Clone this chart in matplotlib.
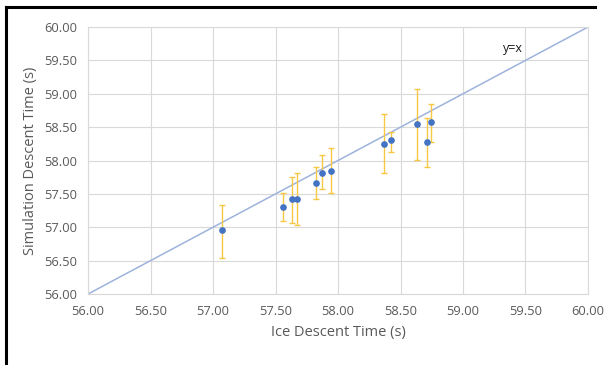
import matplotlib
matplotlib.use("Agg")
import matplotlib.pyplot as plt
from matplotlib.lines import Line2D
import numpy as np

ice_time = [57.07, 57.56, 57.63, 57.67, 57.82, 57.87, 57.94, 58.37, 58.42, 58.63, 58.71, 58.74]
sim_time = [56.96, 57.31, 57.42, 57.42, 57.67, 57.82, 57.85, 58.25, 58.30, 58.55, 58.27, 58.57]
err_top = [57.33, 57.52, 57.75, 57.81, 57.90, 58.09, 58.19, 58.69, 58.42, 59.07, 58.63, 58.85]
err_bottom = [56.54, 57.09, 57.06, 57.03, 57.42, 57.57, 57.51, 57.82, 58.12, 58.01, 57.90, 58.27]
ticks = [56.0, 56.5, 57.0, 57.5, 58.0, 58.5, 59.0, 59.5, 60.0]
line_x = [56.0, 60.0]

plt.rcParams['font.family'] = ['Open Sans', 'DejaVu Sans']

fig = plt.figure(figsize=(6.13, 3.65), dpi=100)
ax = fig.add_axes([0.1436, 0.1945, 0.8156, 0.7315])

grid_c = '#d9d9d9'
ax.set_xlim(56, 60)
ax.set_ylim(56, 60)
ax.set_xticks(ticks)
ax.set_yticks(ticks)
ax.set_xticklabels([f"{t:.2f}" for t in ticks])
ax.set_yticklabels([f"{t:.2f}" for t in ticks])
ax.grid(True, color=grid_c, linewidth=0.8)
ax.set_axisbelow(True)
for s in ax.spines.values():
    s.set_color(grid_c)
    s.set_linewidth(0.8)
ax.tick_params(length=0, labelsize=9.3, colors='#595959')
ax.tick_params(axis='x', pad=8)
ax.tick_params(axis='y', pad=8)

ax.plot(line_x, line_x, color='#9db3dc', linewidth=1.1, zorder=2)

sim = np.array(sim_time)
yerr = np.vstack([sim - np.array(err_bottom), np.array(err_top) - sim])
ax.errorbar(ice_time, sim_time, yerr=yerr, fmt='none', ecolor='#f7c844',
            elinewidth=1.0, capsize=2, capthick=1.0, zorder=3)
ax.plot(ice_time, sim_time, 'o', color='#4472c4', markersize=3.8, zorder=4)

ax.text(59.40, 59.68, 'y=x', fontsize=9, color='#1a1a1a', ha='center', va='center')

ax.set_xlabel('Ice Descent Time (s)', fontsize=10.5, color='#595959', labelpad=5)
ax.set_ylabel('Simulation Descent Time (s)', fontsize=10.5, color='#595959', labelpad=4)

# outer black frame (top and left)
fig.add_artist(Line2D([6/613, 595/613], [1-7/365, 1-7/365], color='black', linewidth=2.2, transform=fig.transFigure))
fig.add_artist(Line2D([6/613, 6/613], [0, 1-7/365], color='black', linewidth=2.2, transform=fig.transFigure))

fig.savefig('out.png', dpi=100)
